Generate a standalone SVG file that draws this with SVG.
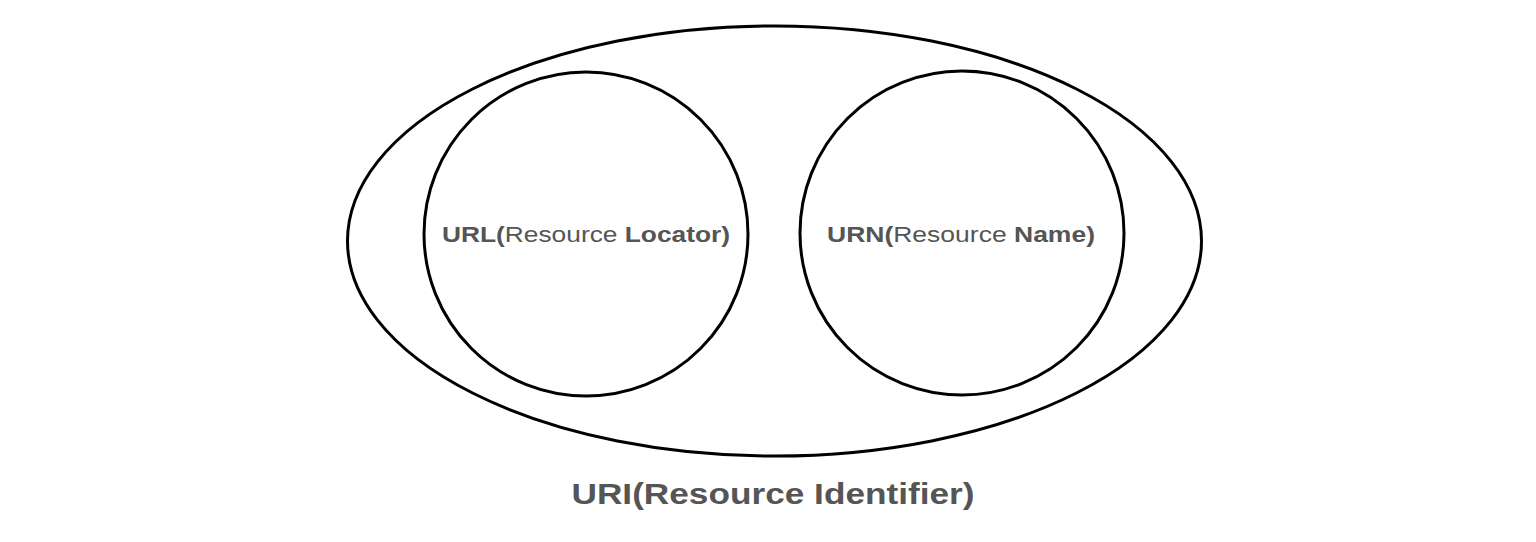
<svg xmlns="http://www.w3.org/2000/svg" width="1536" height="542" viewBox="0 0 1536 542">
<style>
.shape{fill:none;stroke:#000;stroke-width:3}
.lbl{font-family:"Liberation Sans",Arial,sans-serif;fill:#555;text-anchor:middle}
.b{font-weight:bold}
.r{font-weight:normal}
</style>
<rect width="1536" height="542" fill="#fff"/>
<g id="uri">
<ellipse class="shape" cx="774.5" cy="241" rx="427" ry="215"/>
<text class="lbl b" x="773" y="504" font-size="29" textLength="403" lengthAdjust="spacingAndGlyphs">URI(Resource Identifier)</text>
</g>
<g id="url">
<circle class="shape" cx="586" cy="234" r="162"/>
<text class="lbl" x="586" y="242" font-size="22" textLength="288" lengthAdjust="spacingAndGlyphs"><tspan class="b">URL(</tspan><tspan class="r">Resource </tspan><tspan class="b">Locator)</tspan></text>
</g>
<g id="urn">
<circle class="shape" cx="962" cy="233" r="162"/>
<text class="lbl" x="961" y="242" font-size="22" textLength="268" lengthAdjust="spacingAndGlyphs"><tspan class="b">URN(</tspan><tspan class="r">Resource </tspan><tspan class="b">Name)</tspan></text>
</g>
<g id="connectors"></g>
</svg>
